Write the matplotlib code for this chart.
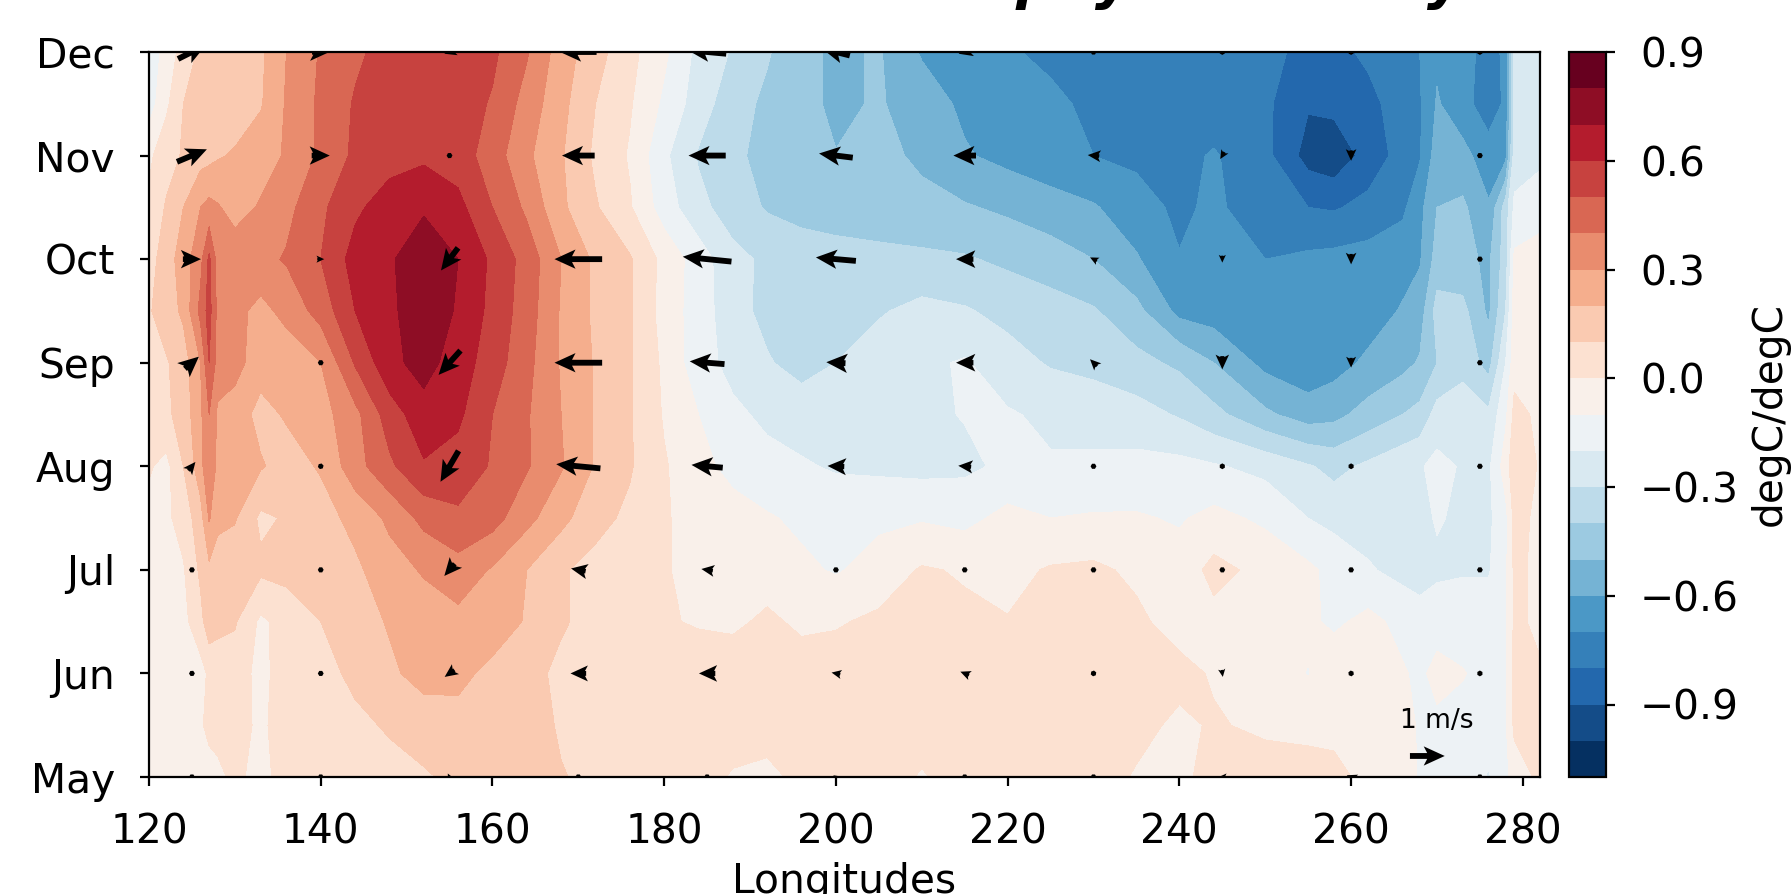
import matplotlib
matplotlib.use("Agg")
import matplotlib.pyplot as plt
import numpy as np

lons = [120, 122, 124, 126, 127, 128, 130, 133, 136, 140, 144, 148, 152, 156, 160, 164, 168, 172, 176, 180, 184, 188, 192,
        196, 200, 205, 210, 215, 220, 225, 230, 235, 240, 244, 250, 255, 258, 262, 266, 268, 270, 273, 276, 278, 279, 282]
times = [0, 0.5, 1, 1.5, 2, 2.5, 3, 3.5, 4, 4.5, 5, 5.5, 6, 6.5, 7]

# regression values, one row per half month
row_may = [-.01, -.03, -.04, -.04, -.03, -.02, .02, -.03, .04, .05, .06, .07, .09, .12, .13, .12, .105, .08, .06, .05, .04, -.01, -.03,
           .03, .05, .05, -.01, .05, .05, .05, .05, -.01, -.02, .03, .05, .03, .02, -.02, -.05, -.11, -.12, -.13, -.21, -.13, -.05, .02]
row_may2 = [-.03, -.04, -.04, -.01, .02, .03, .04, -.02, .05, .05, .08, .11, .14, .16, .16, .14, .09, .07, .06, .05, .05, .05, .05,
            .05, .05, .05, .05, .05, .05, .05, .05, .03, -.02, .01, -.02, -.02, -.02, -.03, -.07, -.11, -.12, -.13, -.14, -.11, .02, .01]
row_jun = [-.04, -.05, -.05, -.04, .02, .04, .05, -.03, .05, .07, .12, .18, .24, .23, .17, .13, .08, .06, .05, .05, .06, .06, .05,
           .05, .05, .05, .05, .05, .05, .05, .05, .05, .03, -.01, -.03, -.105, -.03, -.04, -.09, -.12, -.07, -.095, -.13, -.11, .02, .01]
row_jun2 = [-.04, -.04, -.03, .07, .16, .13, .11, -.02, .04, .10, .15, .21, .25, .27, .26, .19, .11, .07, .04, .01, -.01, -.02, .02,
            -.02, -.01, .02, .02, .02, .005, .03, .04, .02, -.04, -.03, -.05, -.08, -.12, -.07, -.13, -.17, -.14, -.14, -.14, -.12, .02, -.02]
row_jul = [-.04, -.03, -.01, .12, .18, .16, .13, .12, .13, .15, .18, .26, .31, .36, .29, .20, .11, .07, .04, .005, -.02, -.03, -.05,
           -.08, -.11, -.06, .01, -.01, -.03, .01, .02, -.02, -.06, .03, -.03, -.08, -.13, -.19, -.23, -.23, -.22, -.21, -.21, -.12, .02, -.02]
row_jul2 = [-.03, -.02, .04, .16, .31, .22, .21, .08, .11, .16, .23, .32, .43, .48, .44, .33, .23, .13, .08, .01, -.04, -.06, -.09,
            -.12, -.14, -.12, -.11, -.13, -.07, -.1, -.09, -.09, -.11, -.07, -.12, -.2, -.23, -.24, -.24, -.23, -.19, -.22, -.22, -.13, .03, -.02]
row_aug = [.01, -.03, .10, .26, .40, .27, .24, .21, .16, .21, .36, .48, .59, .56, .49, .41, .31, .19, .11, .01, -.07, -.13, -.17,
           -.19, -.21, -.22, -.23, -.22, -.18, -.19, -.18, -.17, -.17, -.19, -.23, -.29, -.33, -.28, -.23, -.21, -.17, -.21, -.22, -.05, .07, -.01]
row_aug2 = [.06, .08, .14, .28, .40, .28, .25, .17, .21, .26, .37, .55, .66, .62, .50, .41, .30, .19, .11, -.01, -.10, -.18, -.22,
            -.24, -.25, -.24, -.22, -.195, -.19, -.22, -.24, -.26, -.31, -.37, -.48, -.55, -.53, -.46, -.40, -.37, -.26, -.25, -.28, -.12, .03, -.02]
row_sep = [.04, .09, .15, .30, .50, .36, .34, .24, .24, .30, .51, .67, .74, .65, .55, .43, .29, .19, .11, -.02, -.16, -.23, -.29,
           -.34, -.30, -.25, -.22, -.19, -.26, -.31, -.33, -.37, -.42, -.50, -.63, -.67, -.64, -.58, -.53, -.49, -.40, -.33, -.44, -.20, -.04, -.03]
row_sep2 = [.09, .15, .22, .43, .54, .37, .33, .27, .33, .44, .60, .68, .76, .69, .57, .45, .29, .18, .11, -.04, -.15, -.26, -.33,
            -.36, -.35, -.31, -.27, -.29, -.33, -.36, -.39, -.47, -.63, -.65, -.68, -.65, -.65, -.65, -.59, -.55, -.36, -.37, -.52, -.30, -.05, -.03]
row_oct = [.06, .15, .25, .37, .52, .36, .36, .37, .41, .50, .64, .69, .75, .70, .58, .46, .30, .18, .11, -.03, -.15, -.27, -.32,
           -.34, -.35, -.36, -.38, -.39, -.42, -.45, -.50, -.59, -.695, -.67, -.70, -.68, -.67, -.66, -.64, -.61, -.46, -.47, -.52, -.35, -.08, -.05]
row_oct2 = [.02, .11, .20, .30, .33, .31, .26, .31, .37, .48, .58, .65, .69, .63, .50, .38, .22, .11, .01, -.15, -.27, -.35, -.41,
            -.44, -.46, -.48, -.47, -.49, -.52, -.56, -.59, -.66, -.72, -.68, -.76, -.80, -.81, -.77, -.72, -.63, -.50, -.48, -.59, -.35, -.18, -.15]
row_nov = [-.02, .06, .11, .16, .17, .19, .21, .26, .31, .42, .52, .56, .58, .55, .45, .32, .21, .08, -.01, -.18, -.31, -.38, -.43,
           -.47, -.497, -.47, -.52, -.59, -.63, -.66, -.70, -.72, -.73, -.69, -.77, -.94, -.97, -.86, -.76, -.71, -.55, -.57, -.65, -.63, -.25, -.22]
row_nov2 = [-.15, -.02, .10, .13, .135, .14, .15, .19, .31, .42, .51, .54, .56, .55, .49, .36, .23, .10, .01, -.12, -.25, -.36, -.42,
            -.47, -.52, -.49, -.55, -.62, -.65, -.68, -.72, -.74, -.75, -.76, -.78, -.89, -.87, -.83, -.75, -.71, -.59, -.66, -.76, -.68, -.27, -.25]
row_dec = [-.17, -.06, .04, .12, .13, .14, .15, .18, .30, .41, .48, .54, .56, .56, .52, .41, .25, .14, .03, -.08, -.23, -.31, -.39,
           -.47, -.52, -.49, -.61, -.65, -.69, -.72, -.74, -.75, -.76, -.77, -.78, -.82, -.83, -.78, -.72, -.70, -.62, -.66, -.74, -.68, -.25, -.25]

# wind anomaly arrows, m/s
wind_lons = [125, 140, 155, 170, 185, 200, 215, 230, 245, 260, 275]
wind_times = [0, 1, 2, 3, 4, 5, 6, 7]
u_may = [.1, .03, -.1, .05, .03, -.15, -.15, .1, -.2, -.25, 0]
v_may = [0, 0, .2, 0, .05, .1, 0, 0, 0, .1, 0]
u_jun = [.03, 0, -.28, -.45, -.47, -.25, -.25, .08, .03, .02, 0]
v_jun = [.06, 0, -.2, 0, 0, .05, .1, .03, -.2, -.15, .12]
u_jul = [.05, 0, -.3, -.42, -.33, -.1, 0, 0, 0, 0, 0]
v_jul = [0, 0, -.35, .08, .05, 0, 0, 0, 0, 0, 0]
u_aug = [.2, .03, -.52, -1.27, -.9, -.48, -.37, 0, 0, 0, 0]
v_aug = [.25, .1, -.89, .12, .08, .02, .03, 0, -.1, -.13, 0]
u_sep = [.4, .08, -.63, -1.37, -1.0, -.55, -.5, -.2, 0, 0, 0]
v_sep = [.35, 0, -.7, 0, .08, .03, 0, .2, -.38, -.28, 0]
u_oct = [.52, .2, -.49, -1.37, -1.4, -1.15, -.5, -.2, 0, 0, 0]
v_oct = [0, 0, -.65, 0, .14, .1, 0, .1, -.2, -.3, 0]
u_nov = [.86, .52, .08, -.94, -1.07, -.97, -.65, -.33, -.12, 0, 0]
v_nov = [.36, 0, -.12, 0, 0, .12, 0, .03, -.2, -.3, 0]
u_dec = [.8, .5, -.3, -1.05, -1.1, -.8, -.35, -.05, 0, 0, 0]
v_dec = [.4, 0, -.1, 0, .1, .2, -.1, 0, -.1, -.1, -.15]

month_labels = ["May", "Jun", "Jul", "Aug", "Sep", "Oct", "Nov", "Dec"]
lon_ticks = [120, 140, 160, 180, 200, 220, 240, 260, 280]
cbar_ticks = [-0.9, -0.6, -0.3, 0.0, 0.3, 0.6, 0.9]

W, H = 1791, 894
plt.rcParams["font.size"] = 14.7
plt.rcParams["axes.linewidth"] = 0.8


def px_axes(fig, left, top, right, bottom):
    return fig.add_axes([left / W, 1 - bottom / H, (right - left) / W, (bottom - top) / H])


fig = plt.figure(figsize=(W / 200, H / 200), dpi=200)
ax = px_axes(fig, 149, 52, 1540, 777)
cax = px_axes(fig, 1569, 52, 1606, 777)

values = np.vstack([row_may, row_may2, row_jun, row_jun2, row_jul, row_jul2, row_aug, row_aug2,
                    row_sep, row_sep2, row_oct, row_oct2, row_nov, row_nov2, row_dec])
levels = np.arange(-1.1, 0.95, 0.1)
cf = ax.contourf(lons, times, values, levels=levels, cmap=plt.get_cmap("RdBu_r", 20))

u = np.vstack([u_may, u_jun, u_jul, u_aug, u_sep, u_oct, u_nov, u_dec])
v = np.vstack([v_may, v_jun, v_jul, v_aug, v_sep, v_oct, v_nov, v_dec])
q = ax.quiver(wind_lons, wind_times, u, v, pivot="mid", scale=40, width=0.0042,
              headwidth=3.3, headlength=3.6, headaxislength=3.0, minshaft=0.9)
ax.quiverkey(q, 0.919, 0.029, 1, "", labelpos="N", coordinates="axes")
ax.text(0.926, 0.077, "1 m/s", transform=ax.transAxes, fontsize=9.5, ha="center", va="center")

ax.set_xlim(120, 282)
ax.set_ylim(0, 7)
ax.set_xticks(lon_ticks)
ax.set_yticks(wind_times)
ax.set_yticklabels(month_labels)
ax.tick_params(axis="x", length=3.2, width=0.8, pad=9.5)
ax.tick_params(axis="y", length=3.2, width=0.8, pad=9)
ax.set_xlabel("Longitudes", va="baseline")
ax.xaxis.set_label_coords(0.5, -116.5 / 725)

cbar = fig.colorbar(cf, cax=cax, ticks=cbar_ticks)
cbar.ax.tick_params(length=3.2, width=0.8, pad=9)
cbar.set_label("degC/degC")

# only the descenders of the title are left inside the frame
for letter, x in zip("pyy", [1035, 1113, 1445]):
    fig.text(x / W, 1 + 2 / H, letter, fontsize=20, fontweight="bold", fontstyle="italic", ha="center", va="baseline")

fig.savefig("out.png", dpi=200)
